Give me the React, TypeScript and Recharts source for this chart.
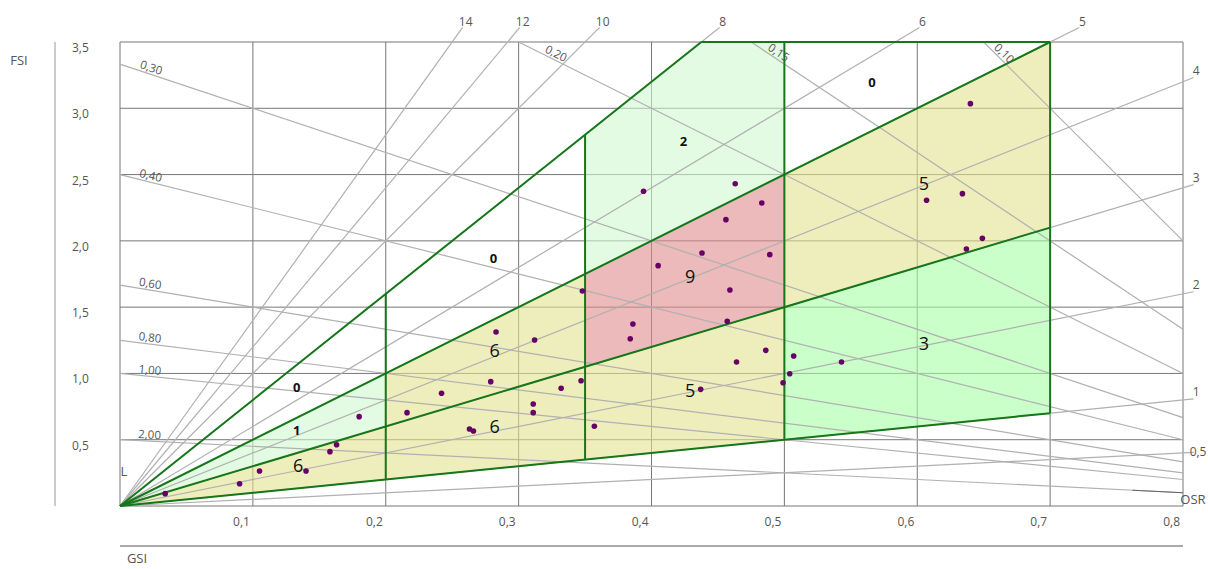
import { ComposedChart, XAxis, YAxis, CartesianGrid, Area, Scatter, ReferenceLine, ReferenceDot } from "recharts";

// axes
const GSI_TICKS = [0, 0.1, 0.2, 0.3, 0.4, 0.5, 0.6, 0.7, 0.8];
const FSI_TICKS = [0, 0.5, 1, 1.5, 2, 2.5, 3, 3.5];
const GSI_MAX = 0.8;
const FSI_MAX = 3.5;

// L lines (FSI = L * GSI)
const L_TOP = [5, 6, 8, 10, 12, 14];
const L_RIGHT = [0.5, 1, 2, 3, 4];

// OSR lines (FSI = (1 - GSI) / OSR) and where their labels sit (GSI)
const OSR_VALUES = [0.1, 0.15, 0.2, 0.3, 0.4, 0.6, 0.8, 1.0, 2.0];
const OSR_LABEL_GSI = [0.662, 0.493, 0.326, 0.022, 0.022, 0.022, 0.022, 0.022, 0.022];

// typology borders
const BORDER_GSI = [0, 0.2, 0.35, 0.5, 0.7];
const BORDER_L = [1, 3, 5, 8];

// coloured cells: column (GSI band), row (L band), colour
const CELL_COL = [0, 1, 2, 3, 0, 2, 2, 3, 1];
const CELL_ROW = [0, 0, 0, 1, 1, 2, 1, 0, 1];
const CELL_FILL = ["#e3e290", "#e3e290", "#e3e290", "#e3e290", "#cff9cf", "#cff9cf", "#e08c8c", "#a6ffa6", "#e3e290"];

// counts per cell
const COUNT_TEXT = ["0", "1", "6", "0", "6", "6", "2", "9", "5", "0", "5", "3"];
const COUNT_GSI = [0.133, 0.133, 0.134, 0.281, 0.282, 0.282, 0.424, 0.429, 0.429, 0.566, 0.605, 0.605];
const COUNT_FSI = [0.897, 0.573, 0.31, 1.87, 1.177, 0.6, 2.75, 1.735, 0.875, 3.2, 2.44, 1.23];

// samples
const SAMPLE_GSI = [0.034, 0.09, 0.105, 0.14, 0.158, 0.163, 0.18, 0.216, 0.242, 0.263, 0.266, 0.279, 0.283, 0.311, 0.311, 0.312, 0.332, 0.347, 0.357, 0.348, 0.384, 0.386, 0.394, 0.405, 0.437, 0.438, 0.456, 0.457, 0.459, 0.463, 0.464, 0.483, 0.486, 0.489, 0.499, 0.504, 0.507, 0.543, 0.607, 0.634, 0.637, 0.64, 0.649];
const SAMPLE_FSI = [0.093, 0.168, 0.264, 0.264, 0.41, 0.462, 0.674, 0.704, 0.85, 0.581, 0.566, 0.938, 1.313, 0.769, 0.704, 1.252, 0.888, 0.945, 0.601, 1.622, 1.262, 1.373, 2.374, 1.813, 0.88, 1.908, 2.16, 1.393, 1.629, 2.431, 1.086, 2.286, 1.174, 1.896, 0.93, 0.998, 1.131, 1.086, 2.306, 2.356, 1.939, 3.035, 2.019];

const FONT = "'Open Sans', 'DejaVu Sans', sans-serif";
const TEXT = "#555";
const GREEN = "#16771a";
const W = 1208;
const H = 569;
const MARGIN = { top: 42, right: 25, bottom: 33, left: 0 };
const PLOT_W = W - 120 - MARGIN.right;
const PLOT_H = H - MARGIN.top - MARGIN.bottom - 30;

const fmt = (v: number) => String(v).replace(".", ",");
const fmt1 = (v: number) => v.toFixed(1).replace(".", ",");

const samples = SAMPLE_GSI.map((g, i) => ({ g, f: SAMPLE_FSI[i] }));

function cellData(col: number, row: number) {
  const g0 = BORDER_GSI[col];
  const g1 = BORDER_GSI[col + 1];
  const lo = BORDER_L[row];
  const hi = BORDER_L[row + 1];
  const pts = [g0, g1];
  const brk = FSI_MAX / hi;
  if (brk > g0 && brk < g1) pts.splice(1, 0, brk);
  return pts.map((g) => ({ g, r: [lo * g, Math.min(hi * g, FSI_MAX)] }));
}

const lEnd = (L: number) => {
  const top = 3.61;
  return top / L <= 0.808 ? { x: top / L, y: top } : { x: 0.808, y: 0.808 * L };
};

const osrStart = (o: number) => (1 / o <= FSI_MAX ? { x: 0, y: 1 / o } : { x: 1 - FSI_MAX * o, y: FSI_MAX });

function Txt({ cx, cy, text, ox = 0, oy = 0, rot = 0, anc = "middle", fs = 12, col = TEXT, fw = "normal" }: any) {
  return (
    <text
      transform={`translate(${cx},${cy}) rotate(${rot})`}
      x={ox}
      y={oy}
      textAnchor={anc}
      dominantBaseline="central"
      fontSize={fs}
      fill={col}
      fontWeight={fw}
      fontFamily={FONT}
    >
      {text}
    </text>
  );
}

function label(key: string, x: number, y: number, opts: any) {
  return (
    <ReferenceDot
      key={key}
      x={x}
      y={y}
      r={0}
      ifOverflow="visible"
      shape={(p: any) => <Txt cx={p.cx} cy={p.cy} {...opts} />}
    />
  );
}

const XTick = ({ x, payload }: any) =>
  payload.value === 0 ? <g /> : (
    <text x={x - 3} y={526} textAnchor="end" fontSize={12} fill={TEXT} fontFamily={FONT}>
      {fmt1(payload.value)}
    </text>
  );

const YTick = ({ y, payload }: any) =>
  payload.value === 0 ? <g /> : (
    <text x={72} y={y + 10} textAnchor="start" fontSize={12} fill={TEXT} fontFamily={FONT}>
      {fmt1(payload.value)}
    </text>
  );

export default function App() {
  const pxSlope = (PLOT_H / FSI_MAX) / (PLOT_W / GSI_MAX);
  const segs: any[] = [];
  // green borders
  BORDER_L.forEach((L) => {
    const gEnd = Math.min(BORDER_GSI[4], FSI_MAX / L);
    segs.push([{ x: 0, y: 0 }, { x: gEnd, y: L * gEnd }]);
  });
  segs.push([{ x: FSI_MAX / 8, y: FSI_MAX }, { x: BORDER_GSI[4], y: FSI_MAX }]);
  BORDER_GSI.slice(1).forEach((g) => {
    segs.push([{ x: g, y: g * BORDER_L[0] }, { x: g, y: Math.min(g * 8, FSI_MAX) }]);
  });

  return (
    <div style={{ position: "fixed", left: 0, top: 0, width: W, height: H, overflow: "hidden", background: "#fff" }}>
      <ComposedChart width={W} height={H} margin={MARGIN}>
        <CartesianGrid stroke="#777" />
        <XAxis type="number" dataKey="g" domain={[0, GSI_MAX]} ticks={GSI_TICKS} allowDataOverflow axisLine={false} tickLine={false} height={30} tick={XTick} interval={0} />
        <YAxis type="number" dataKey="f" domain={[0, FSI_MAX]} ticks={FSI_TICKS} allowDataOverflow axisLine={false} tickLine={false} width={120} tick={YTick} interval={0} />

        {CELL_COL.map((c, i) => (
          <Area
            key={"cell" + i}
            data={cellData(c, CELL_ROW[i])}
            dataKey="r"
            type="linear"
            stroke="none"
            fill={CELL_FILL[i]}
            fillOpacity={0.6}
            dot={false}
            activeDot={false}
            isAnimationActive={false}
          />
        ))}

        {[...L_TOP, ...L_RIGHT].map((L) => (
          <ReferenceLine key={"l" + L} segment={[{ x: 0, y: 0 }, lEnd(L)]} stroke="#b0b0b0" strokeWidth={1.2} ifOverflow="visible" />
        ))}
        {OSR_VALUES.map((o) => (
          <ReferenceLine key={"o" + o} segment={[osrStart(o), { x: GSI_MAX, y: (1 - GSI_MAX) / o }]} stroke="#b0b0b0" strokeWidth={1.2} ifOverflow="visible" />
        ))}
        <ReferenceLine segment={[{ x: 0.762, y: 0.119 }, { x: GSI_MAX, y: 0.1 }]} stroke="#666" strokeWidth={1} ifOverflow="visible" />

        {segs.map((s, i) => (
          <ReferenceLine key={"b" + i} segment={s} stroke={GREEN} strokeWidth={2} ifOverflow="visible" />
        ))}

        <ReferenceLine segment={[{ x: -0.0489, y: 0 }, { x: -0.0489, y: FSI_MAX }]} stroke="#999" strokeWidth={1} ifOverflow="visible" />
        <ReferenceLine segment={[{ x: 0, y: -0.302 }, { x: GSI_MAX, y: -0.302 }]} stroke="#aaa" strokeWidth={2} ifOverflow="visible" />

        <Scatter
          data={samples}
          fill="#660066"
          isAnimationActive={false}
          shape={(p: any) => <circle cx={p.cx} cy={p.cy} r={2.8} fill="#660066" />}
        />

        {L_TOP.map((L) => label("lt" + L, lEnd(L).x, lEnd(L).y, { text: fmt(L), ox: 3, oy: -6 }))}
        {L_RIGHT.map((L) => label("lr" + L, lEnd(L).x, lEnd(L).y, { text: fmt(L), anc: "start", ox: L === 0.5 ? -4 : -1, oy: L === 0.5 ? -1 : -7 }))}
        {OSR_VALUES.map((o, i) => {
          const g = OSR_LABEL_GSI[i];
          const rot = (Math.atan(pxSlope / o) * 180) / Math.PI;
          return label("ol" + o, g, (1 - g) / o, { text: o.toFixed(2).replace(".", ","), rot, oy: -7, fs: 11.5 });
        })}
        {COUNT_TEXT.map((t, i) => {
          const small = t === "0" || t === "1" || t === "2";
          return label("c" + i, COUNT_GSI[i], COUNT_FSI[i], { text: t, fs: small ? 13 : 18, col: "#111", fw: small ? "bold" : "normal" });
        })}

        {label("fsi", -0.076, 3.364, { text: "FSI", fs: 13 })}
        {label("gsi", 0.0128, -0.395, { text: "GSI", fs: 13 })}
        {label("lbl", 0.003, 0.264, { text: "L", fs: 13 })}
        {label("osr", 0.8075, 0.053, { text: "OSR", fs: 13 })}
      </ComposedChart>
    </div>
  );
}
